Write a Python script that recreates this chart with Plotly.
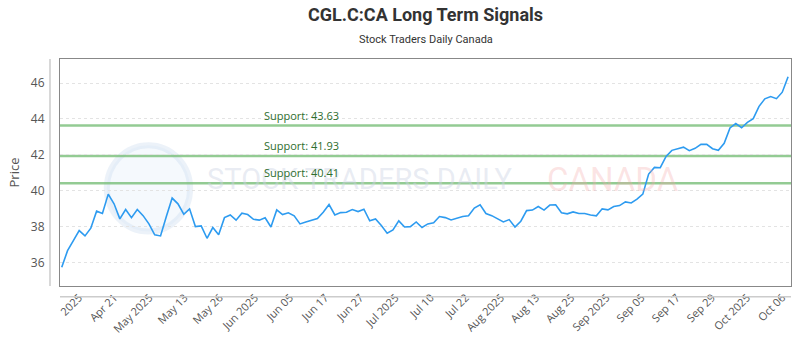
import plotly.graph_objects as go

prices = [35.73, 36.66, 37.22, 37.78, 37.48, 37.91, 38.86, 38.73, 39.81, 39.27,
          38.43, 38.95, 38.50, 38.95, 38.61, 38.15, 37.54, 37.48, 38.56, 39.59,
          39.27, 38.69, 38.99, 38.00, 38.04, 37.35, 37.95, 37.54, 38.50, 38.65,
          38.36, 38.75, 38.67, 38.41, 38.36, 38.49, 37.98, 38.93, 38.67, 38.77,
          38.60, 38.15, 38.26, 38.34, 38.45, 38.80, 39.23, 38.65, 38.78, 38.80,
          38.95, 38.84, 38.97, 38.32, 38.43, 38.06, 37.63, 37.82, 38.32, 37.98,
          38.00, 38.26, 37.95, 38.15, 38.21, 38.56, 38.50, 38.37, 38.47, 38.56,
          38.60, 39.03, 39.21, 38.73, 38.61, 38.43, 38.26, 38.39, 37.98, 38.30,
          38.89, 38.92, 39.12, 38.92, 39.20, 39.21, 38.77, 38.71, 38.82, 38.73,
          38.73, 38.65, 38.60, 38.99, 38.93, 39.12, 39.17, 39.38, 39.32, 39.53,
          39.81, 40.93, 41.30, 41.28, 41.91, 42.25, 42.32, 42.43, 42.23, 42.36,
          42.58, 42.58, 42.34, 42.25, 42.64, 43.50, 43.74, 43.51, 43.81, 44.02,
          44.70, 45.12, 45.25, 45.13, 45.49, 46.35]

tick_labels = ["2025", "Apr 21", "May 2025", "May 13", "May 26", "Jun 2025", "Jun 05",
               "Jun 17", "Jun 27", "Jul 2025", "Jul 10", "Jul 22", "Aug 2025", "Aug 13",
               "Aug 25", "Sep 2025", "Sep 05", "Sep 17", "Sep 29", "Oct 2025", "Oct 06"]

support_levels = [43.63, 41.93, 40.41]
support_labels = ["Support: 43.63", "Support: 41.93", "Support: 40.41"]

x_idx = list(range(len(prices)))
n_ticks = len(tick_labels)
tick_first, tick_last = 3.0, 124.0
tick_pos = [tick_first + (tick_last - tick_first) * k / (n_ticks - 1) for k in range(n_ticks)]

fig = go.Figure()

fig.add_trace(go.Scatter(x=x_idx, y=prices, mode="lines",
                         line=dict(color="#2d9bf0", width=1.6),
                         hoverinfo="y", showlegend=False))

shapes = []
annotations = []

# watermark
shapes.append(dict(type="circle", xref="paper", yref="paper",
                   x0=0.064, x1=0.178, y0=0.24, y1=0.62,
                   line=dict(color="rgba(200,218,238,0.35)", width=6),
                   fillcolor="rgba(222,234,247,0.3)", layer="below"))
annotations.append(dict(text="STOCK TRADERS DAILY", xref="paper", yref="paper",
                        x=0.199, y=0.47, xanchor="left", yanchor="middle", showarrow=False,
                        font=dict(family="Roboto, sans-serif",
                                  size=29, color="rgba(205,212,228,0.45)")))
annotations.append(dict(text="CANADA", xref="paper", yref="paper",
                        x=0.664, y=0.47, xanchor="left", yanchor="middle", showarrow=False,
                        font=dict(family="Roboto, sans-serif",
                                  size=33, color="rgba(245,170,170,0.33)")))

for lvl, lab in zip(support_levels, support_labels):
    shapes.append(dict(type="line", xref="paper", yref="y", x0=0, x1=1, y0=lvl, y1=lvl,
                       line=dict(color="rgba(120,190,120,0.8)", width=2.5), layer="below"))
    annotations.append(dict(text=lab, xref="x", yref="y", x=34.5, y=lvl,
                            xanchor="left", yanchor="bottom", yshift=1, showarrow=False,
                            font=dict(family="Open Sans, sans-serif", size=11, color="#2e6e2e")))

# outer axis lines
shapes.append(dict(type="line", xref="paper", yref="paper", x0=-0.0137, x1=-0.0137, y0=0, y1=1,
                   line=dict(color="#cccccc", width=1.5)))
shapes.append(dict(type="line", xref="paper", yref="paper", x0=0, x1=1, y0=-0.047, y1=-0.047,
                   line=dict(color="#cccccc", width=1.5)))

annotations.append(dict(text="<b>CGL.C:CA Long Term Signals</b>", xref="paper", yref="paper",
                        x=0.5, y=1, xanchor="center", yanchor="bottom", yshift=32,
                        showarrow=False,
                        font=dict(family="Roboto, sans-serif", size=18, color="#333333")))
annotations.append(dict(text="Stock Traders Daily Canada", xref="paper", yref="paper",
                        x=0.5, y=1, xanchor="center", yanchor="bottom", yshift=11,
                        showarrow=False,
                        font=dict(family="Roboto, sans-serif", size=11, color="#333333")))

fig.update_layout(
    width=800, height=350,
    margin=dict(l=60, r=9, t=59, b=64),
    paper_bgcolor="white", plot_bgcolor="white",
    shapes=shapes, annotations=annotations,
    xaxis=dict(range=[-0.3, 125.5], tickvals=tick_pos, ticktext=tick_labels,
               tickangle=-45, showgrid=False, zeroline=False,
               showline=True, mirror=True, linecolor="#888888", linewidth=1,
               ticks="", tickfont=dict(family="Open Sans, sans-serif", size=11, color="#555555")),
    yaxis=dict(range=[34.69, 47.34], tickvals=[36, 38, 40, 42, 44, 46],
               showgrid=True, gridcolor="#e3e3e3", griddash="dot", gridwidth=1,
               zeroline=False, showline=True, mirror=True, linecolor="#888888", linewidth=1,
               ticks="", ticklabelstandoff=12,
               tickfont=dict(family="Open Sans, sans-serif", size=12, color="#555555"),
               title=dict(text="Price", standoff=8,
                          font=dict(family="Open Sans, sans-serif", size=13, color="#555555"))),
)

fig.write_html("out.html")
